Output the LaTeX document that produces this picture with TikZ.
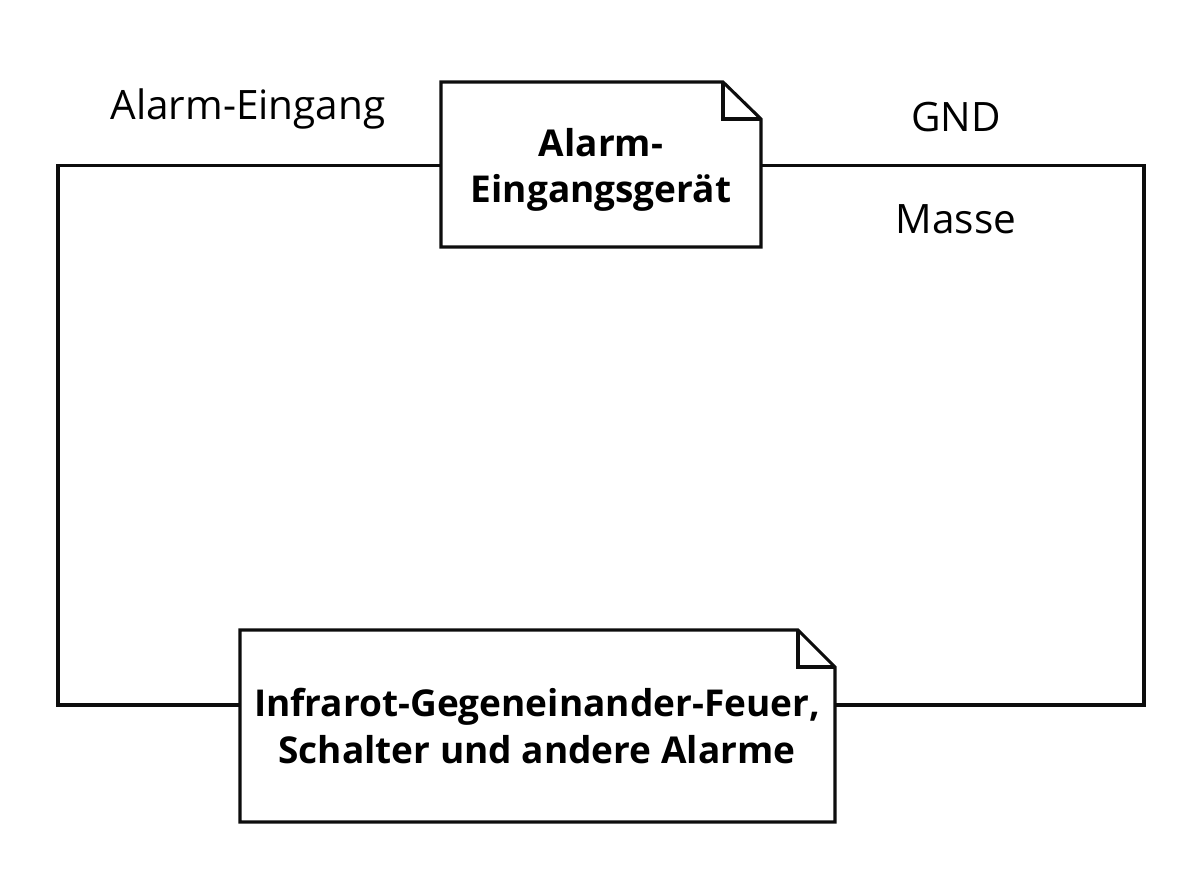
\documentclass[tikz,border=0pt]{standalone}
\usepackage{fontspec}
\setmainfont{Open Sans}
\tikzset{
  wire/.style={line width=3.1pt,draw=black!95},
  lbl/.style={inner sep=0pt,font=\fontsize{40.5}{48}\selectfont},
  ttl/.style={inner sep=0pt,align=center,font=\fontsize{37}{46.5}\selectfont\bfseries}
}
\begin{document}
\begin{tikzpicture}[x=1pt,y=-1pt,line join=miter]
\useasboundingbox (0,0) rectangle (1202,880);
% document boxes
\coordinate (aTL) at (441,82);
\coordinate (aFold) at (723,82);
\coordinate (aFoldIn) at (723,119);
\coordinate (aR) at (761,119);
\coordinate (aBR) at (761,247);
\coordinate (aBL) at (441,247);
\coordinate (bTL) at (240,630);
\coordinate (bFold) at (798,630);
\coordinate (bFoldIn) at (798,667);
\coordinate (bR) at (835,667);
\coordinate (bBR) at (835,822);
\coordinate (bBL) at (240,822);
\draw[wire] (aTL) -- (aFold) -- (aR) -- (aBR) -- (aBL) -- cycle;
\draw[wire] (aFold) -- (aFoldIn) -- (aR);
\draw[wire] (bTL) -- (bFold) -- (bR) -- (bBR) -- (bBL) -- cycle;
\draw[wire] (bFold) -- (bFoldIn) -- (bR);
% wires
\coordinate (aLp) at (441,165.5);
\coordinate (aRp) at (761,165.5);
\coordinate (bLp) at (240,705);
\coordinate (bRp) at (835,705);
\coordinate (cTL) at (58,165.5);
\coordinate (cBL) at (58,705);
\coordinate (cTR) at (1144,165.5);
\coordinate (cBR) at (1144,705);
\draw[wire] (aLp) -- (cTL) -- (cBL) -- (bLp);
\draw[wire] (aRp) -- (cTR) -- (cBR) -- (bRp);
% text
\node[ttl] (a) at (601,170) {Alarm-\\Eingangsgerät};
\node[ttl] (b) at (537,726) {Infrarot-Gegeneinander-Feuer,\\Schalter und andere Alarme};
\node[lbl] (l1) at (248,109) {Alarm-Eingang};
\node[lbl] (l2) at (956,117) {GND};
\node[lbl] (l3) at (956,219) {Masse};
\end{tikzpicture}
\end{document}
